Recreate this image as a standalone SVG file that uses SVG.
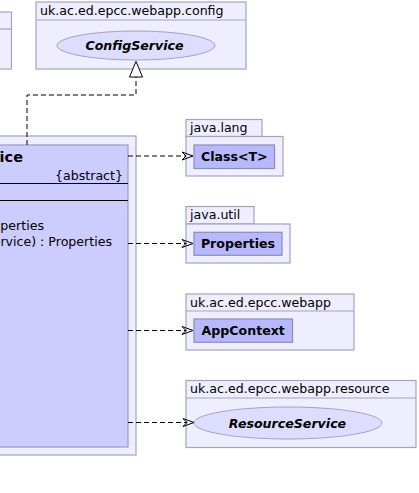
<svg xmlns="http://www.w3.org/2000/svg" width="419" height="493" viewBox="0 0 419 493">
<style>
.pkg{fill:#EEEEFF;stroke:#A3A3BC;stroke-width:1.2}
.cls{fill:#CCCCFF;stroke:#9A9AC4;stroke-width:1.2}
.box{fill:#B8B8FF;stroke:#8C8CB8;stroke-width:1.2}
.uc{fill:#DDDDFF;stroke:#A3A3C0;stroke-width:1}
.sep{stroke:#000;stroke-width:1.2}
.t{font-family:"DejaVu Sans",sans-serif;font-size:12.6px;fill:#000}
.b{font-weight:bold}
.i{font-style:italic}
.dash{fill:none;stroke:#000;stroke-width:1;stroke-dasharray:5,3}
.head{fill:none;stroke:#000;stroke-width:1}
</style>
<rect width="419" height="493" fill="#FFFFFF"/>
<g id="pkg-left">
<rect class="pkg" x="-2" y="12" width="13.5" height="57"/>
<line class="pkg" x1="-2" y1="29" x2="11.5" y2="29"/>
</g>
<g id="pkg-config">
<rect class="pkg" x="36" y="2" width="210" height="67"/>
<line class="pkg" x1="36" y1="20" x2="246" y2="20"/>
<text class="t" x="40" y="14.5">uk.ac.ed.epcc.webapp.config</text>
</g>
<g id="ConfigService">
<ellipse class="uc" cx="136" cy="45.5" rx="79" ry="14.5"/>
<text class="t b i" x="134.5" y="49.5" text-anchor="middle">ConfigService</text>
</g>
<g id="pkg-main">
<rect class="pkg" x="-2" y="136" width="138" height="319"/>
</g>
<g id="MainClass">
<rect class="cls" x="-2" y="145" width="130" height="302"/>
<text class="t b" x="23" y="161.5" text-anchor="end" style="font-size:14.5px">ice</text>
<text class="t" x="123" y="180" text-anchor="end">{abstract}</text>
<line class="sep" x1="-2" y1="183.5" x2="128" y2="183.5"/>
<line class="sep" x1="-2" y1="200.5" x2="128" y2="200.5"/>
<text class="t" x="44" y="229.5" text-anchor="end">perties</text>
<text class="t" x="112" y="245.5" text-anchor="end">ervice) : Properties</text>
</g>
<g id="pkg-java-lang">
<rect class="pkg" x="186" y="119.5" width="76" height="17"/>
<rect class="pkg" x="186" y="136.5" width="97" height="39.5"/>
<text class="t" x="190" y="132">java.lang</text>
</g>
<g id="Class">
<rect class="box" x="194" y="145" width="80.5" height="23.5"/>
<text class="t b" x="234.3" y="161" text-anchor="middle">Class&lt;T&gt;</text>
</g>
<g id="pkg-java-util">
<rect class="pkg" x="186" y="206.5" width="68" height="17.5"/>
<rect class="pkg" x="186" y="224" width="104" height="39"/>
<text class="t" x="190" y="219">java.util</text>
</g>
<g id="Properties">
<rect class="box" x="194" y="232.3" width="88" height="23"/>
<text class="t b" x="238" y="248.3" text-anchor="middle">Properties</text>
</g>
<g id="pkg-webapp">
<rect class="pkg" x="186" y="294" width="168" height="56"/>
<line class="pkg" x1="186" y1="311" x2="354" y2="311"/>
<text class="t" x="190" y="306.5">uk.ac.ed.epcc.webapp</text>
</g>
<g id="AppContext">
<rect class="box" x="194" y="319" width="98.5" height="23.3"/>
<text class="t b" x="243.2" y="335.3" text-anchor="middle">AppContext</text>
</g>
<g id="pkg-resource">
<rect class="pkg" x="186" y="380.5" width="230" height="67"/>
<line class="pkg" x1="186" y1="398" x2="416" y2="398"/>
<text class="t" x="190" y="393">uk.ac.ed.epcc.webapp.resource</text>
</g>
<g id="ResourceService">
<ellipse class="uc" cx="288" cy="423" rx="94" ry="16"/>
<text class="t b i" x="287.5" y="427.5" text-anchor="middle">ResourceService</text>
</g>
<g id="connectors">
<polyline class="dash" points="27,145 27,95 136,95 136,77"/>
<polygon points="136,61.5 129.5,77 142.5,77" fill="#FFFFFF" stroke="#000" stroke-width="1"/>
<line class="dash" x1="128" y1="156" x2="186" y2="156"/>
<path class="head" d="M182,152 L193,156 L182,160 L186,156 Z"/>
<line class="dash" x1="128" y1="243.5" x2="186" y2="243.5"/>
<path class="head" d="M182,239.5 L193,243.5 L182,247.5 L186,243.5 Z"/>
<line class="dash" x1="128" y1="330.5" x2="186" y2="330.5"/>
<path class="head" d="M182,326.5 L193,330.5 L182,334.5 L186,330.5 Z"/>
<line class="dash" x1="128" y1="422.5" x2="187" y2="422.5"/>
<path class="head" d="M183,418.5 L194,422.5 L183,426.5 L187,422.5 Z"/>
</g>
</svg>
